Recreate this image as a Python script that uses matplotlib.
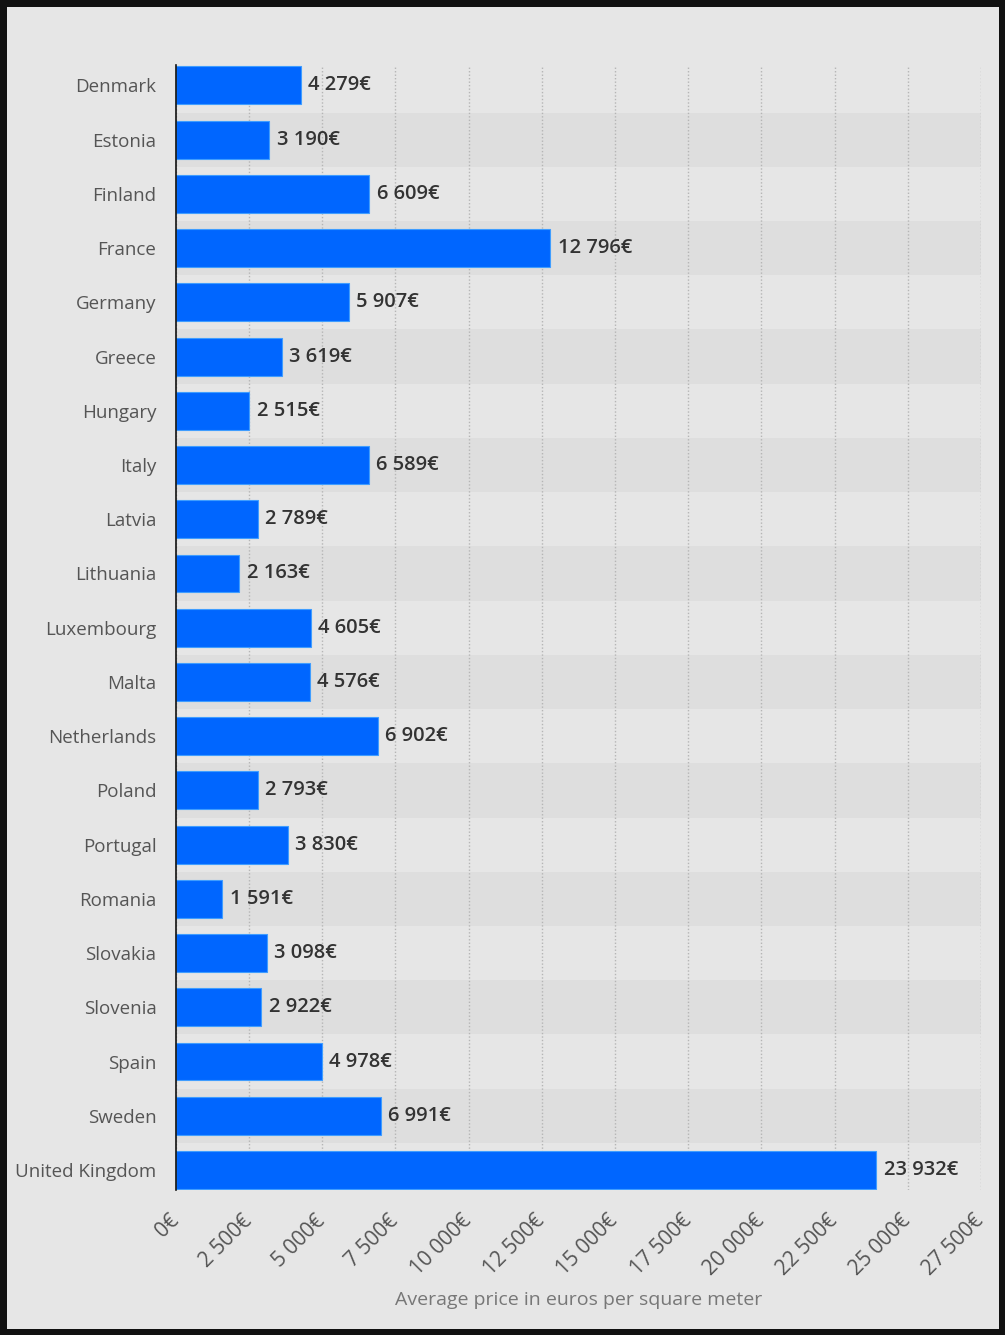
import matplotlib.pyplot as plt
from matplotlib.ticker import FixedLocator

countries = ['Denmark', 'Estonia', 'Finland', 'France', 'Germany', 'Greece',
             'Hungary', 'Italy', 'Latvia', 'Lithuania', 'Luxembourg', 'Malta',
             'Netherlands', 'Poland', 'Portugal', 'Romania', 'Slovakia',
             'Slovenia', 'Spain', 'Sweden', 'United Kingdom']
prices = [4279, 3190, 6609, 12796, 5907, 3619, 2515, 6589, 2789, 2163, 4605,
          4576, 6902, 2793, 3830, 1591, 3098, 2922, 4978, 6991, 23932]
xticks = [0, 2500, 5000, 7500, 10000, 12500, 15000, 17500, 20000, 22500,
          25000, 27500]

def euro(v):
    return '{:,}'.format(v).replace(',', ' ') + '€'

plt.rcParams['font.family'] = ['Open Sans', 'DejaVu Sans']

fig = plt.figure(figsize=(10.05, 13.35), dpi=100)
fig.patch.set_facecolor('#e6e6e6')
fig.patch.set_edgecolor('#111111')
fig.patch.set_linewidth(8)
ax = fig.add_axes([0.175, 0.1086, 0.801, 0.8424])
ax.set_facecolor('#e6e6e6')

pos = list(range(len(countries)))
# alternating row bands
for i in pos:
    if i % 2 == 1:
        ax.axhspan(i - 0.5, i + 0.5, color='#dedede', zorder=0, lw=0)

ax.barh(pos, prices, height=0.7, color='#0066ff', edgecolor='#3f9dff',
        linewidth=0.8, zorder=3)
for i, v in zip(pos, prices):
    ax.text(v + 250, i, euro(v), va='center', ha='left', fontsize=14.5,
            color='#333333', fontweight='semibold', zorder=4)

ax.set_xlim(0, 27500)
ax.set_ylim(len(countries) - 1 + 0.37, -0.37)
ax.xaxis.set_major_locator(FixedLocator(xticks))
ax.set_xticklabels([euro(t) for t in xticks], rotation=45, ha='right',
                   va='center', rotation_mode='anchor', fontsize=15,
                   color='#555555')
ax.set_yticks(pos)
ax.set_yticklabels(countries, fontsize=13.5, color='#555555')
ax.tick_params(axis='y', length=0, pad=14)
ax.tick_params(axis='x', length=0, pad=20)
ax.grid(axis='x', linestyle=(0, (1, 1.5)), color='#b5b5b5', linewidth=1,
        zorder=1)
for s in ['top', 'right', 'bottom']:
    ax.spines[s].set_visible(False)
ax.spines['left'].set_color('#111111')
ax.spines['left'].set_linewidth(1.2)
ax.spines['left'].set_zorder(5)
ax.set_xlabel('Average price in euros per square meter', fontsize=14,
              color='#777777', labelpad=8)

fig.savefig('out.png', dpi=100, facecolor=fig.get_facecolor(),
            edgecolor=fig.get_edgecolor())
